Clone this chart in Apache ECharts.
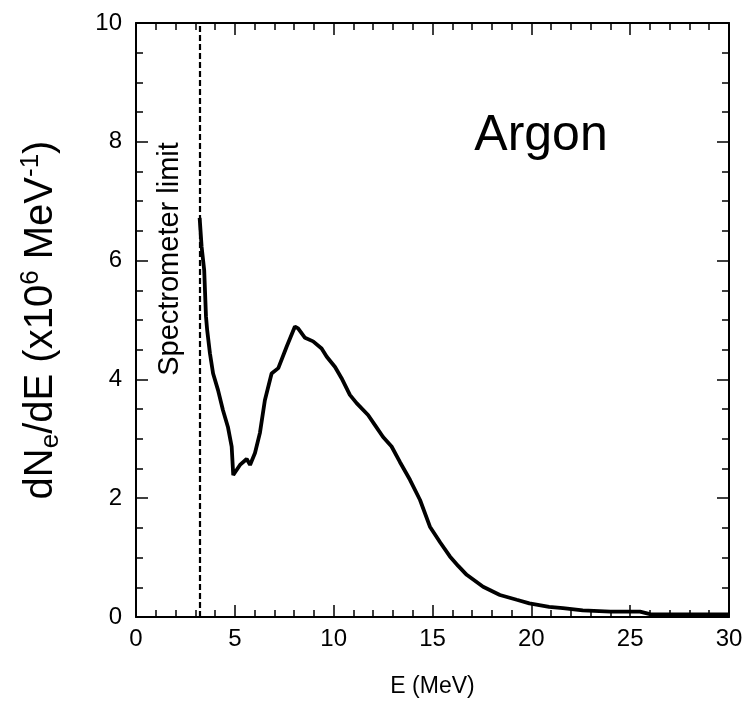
<!DOCTYPE html>
<html>
<head>
<meta charset="utf-8">
<script src="https://cdn.jsdelivr.net/npm/echarts@6/dist/echarts.min.js"></script>
<style>
  html, body { margin: 0; padding: 0; background: #fff; }
  #chart { width: 755px; height: 723px; }
</style>
</head>
<body>
<div id="chart"></div>
<script>
// electron spectrum
const energy = [3.22, 3.25, 3.32, 3.45, 3.54, 3.6, 3.74, 3.9, 4.15, 4.4, 4.65, 4.84, 4.92, 5.26, 5.6, 5.77, 6.02, 6.27, 6.52, 6.86, 7.2, 7.62, 8.04, 8.2, 8.55, 8.96, 9.39, 9.65, 10.07, 10.4, 10.82, 11.16, 11.74, 12.09, 12.5, 12.93, 13.35, 13.86, 14.37, 14.87, 15.4, 15.88, 16.3, 16.73, 17.56, 18.41, 19.26, 19.9, 20.9, 21.6, 22.6, 24, 25.5, 26, 28, 30]
const dNdE = [6.72, 6.7, 6.23, 5.84, 5.06, 4.83, 4.44, 4.1, 3.82, 3.48, 3.2, 2.87, 2.39, 2.56, 2.66, 2.56, 2.76, 3.1, 3.65, 4.1, 4.19, 4.55, 4.89, 4.86, 4.7, 4.64, 4.52, 4.38, 4.21, 4.02, 3.74, 3.6, 3.4, 3.23, 3.03, 2.87, 2.61, 2.31, 1.97, 1.52, 1.25, 1.02, 0.86, 0.71, 0.51, 0.37, 0.29, 0.23, 0.17, 0.15, 0.11, 0.09, 0.09, 0.05, 0.045, 0.045]
const spectrometerLimit = 3.2
const xTicks = [0, 5, 10, 15, 20, 25, 30]
const yTicks = [0, 2, 4, 6, 8, 10]

const font = 'Liberation Sans, Arial, sans-serif'
const chart = echarts.init(document.getElementById('chart'))

const axisCommon = {
  axisLine: { show: true, onZero: false, lineStyle: { color: '#000', width: 2 } },
  axisTick: { show: true, inside: true, length: 12, lineStyle: { color: '#000', width: 1.5 } },
  minorTick: { show: true, length: 7, lineStyle: { color: '#000', width: 1.5 } },
  splitLine: { show: false },
  minorSplitLine: { show: false }
}

const option = {
  animation: false,
  backgroundColor: '#fff',
  grid: { left: 136, top: 23, right: 26, bottom: 106 },
  xAxis: [
    {
      ...axisCommon,
      type: 'value',
      min: xTicks[0], max: xTicks[xTicks.length - 1], interval: 5,
      minorTick: { ...axisCommon.minorTick, splitNumber: 5 },
      axisLabel: { color: '#000', fontSize: 24, fontFamily: font, margin: 10 },
      name: 'E (MeV)',
      nameLocation: 'middle',
      nameGap: 58,
      nameTextStyle: { color: '#000', fontSize: 23, fontFamily: font }
    },
    {
      ...axisCommon,
      type: 'value', position: 'top',
      min: 0, max: 30, interval: 5,
      minorTick: { ...axisCommon.minorTick, splitNumber: 5 },
      axisLabel: { show: false }
    }
  ],
  yAxis: [
    {
      ...axisCommon,
      type: 'value',
      min: yTicks[0], max: yTicks[yTicks.length - 1], interval: 2,
      minorTick: { ...axisCommon.minorTick, splitNumber: 4 },
      axisLabel: { color: '#000', fontSize: 24, fontFamily: font, margin: 14 },
      name: '{n|dN}{s|e}{n|/dE (x10}{p|6}{n| MeV}{p|-1}{n|)}',
      nameLocation: 'middle',
      nameGap: 72,
      nameRotate: 90,
      nameTextStyle: {
        color: '#000', fontFamily: font,
        rich: {
          n: { fontSize: 40, fontFamily: font, color: '#000', lineHeight: 46 },
          s: { fontSize: 26, fontFamily: font, color: '#000', verticalAlign: 'bottom', lineHeight: 46 },
          p: { fontSize: 26, fontFamily: font, color: '#000', verticalAlign: 'top', lineHeight: 46 }
        }
      }
    },
    {
      ...axisCommon,
      type: 'value', position: 'right',
      min: 0, max: 10, interval: 2,
      minorTick: { ...axisCommon.minorTick, splitNumber: 4 },
      axisLabel: { show: false }
    }
  ],
  series: [
    {
      type: 'line',
      data: energy.map((e, i) => [e, dNdE[i]]),
      showSymbol: false,
      lineStyle: { color: '#000', width: 3.8 },
      markLine: {
        silent: true,
        symbol: 'none',
        label: { show: false },
        lineStyle: { color: '#000', width: 2.2, type: [6, 3] },
        data: [{ xAxis: spectrometerLimit }]
      }
    }
  ],
  graphic: [
    {
      type: 'text',
      x: 170, y: 259,
      rotation: Math.PI / 2,
      style: {
        text: 'Spectrometer limit',
        font: '29px ' + font,
        fill: '#000',
        align: 'center',
        verticalAlign: 'middle'
      }
    },
    {
      type: 'text',
      x: 541, y: 136,
      style: {
        text: 'Argon',
        font: '50px ' + font,
        fill: '#000',
        align: 'center',
        verticalAlign: 'middle'
      }
    }
  ]
}

chart.setOption(option)
</script>
</body>
</html>
